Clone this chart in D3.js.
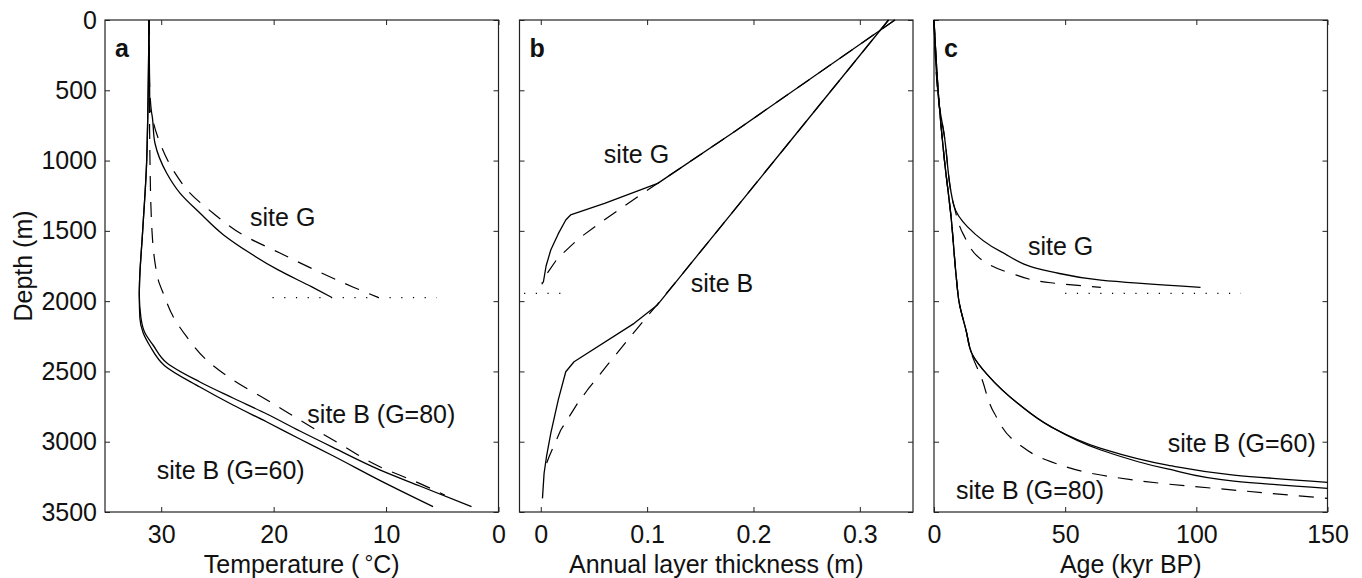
<!DOCTYPE html>
<html>
<head>
<meta charset="utf-8">
<script src="https://cdn.jsdelivr.net/npm/d3@7"></script>
<style>
  body { margin: 0; background: #fff; }
  text { font-family: "Liberation Sans", Arial, sans-serif; fill: #111; }
</style>
</head>
<body>
<div id="chart"></div>
<script>
// ---- data: [value, depth (m)] ----
// panel a : temperature (degrees, axis reversed)
var tempGSolid = [[31.09,0],[31.04,427],[31.0,640],[30.85,662],[30.56,875],[29.52,1088],[28.33,1231],[26.56,1373],[24.45,1529],[22.11,1658],[19.6,1778],[16.6,1899],[14.85,1973]];
var tempGDash = [[31.09,0],[31.04,427],[30.85,662],[30.11,875],[28.78,1088],[27.44,1231],[25.4,1373],[22.73,1529],[19.44,1658],[16.33,1778],[12.96,1899],[10.71,1973]];
var tempB80Solid = [[31.09,0],[31.29,996],[31.65,1501],[31.93,1871],[31.95,1956],[31.8,2120],[31.44,2227],[30.73,2312],[29.49,2440],[26.56,2575],[23.62,2689],[20.6,2803],[17.67,2924],[14.73,3040],[10.56,3200],[7.0,3315],[2.4,3462]];
var tempB60Solid = [[31.09,0],[31.29,996],[31.65,1501],[31.93,1871],[31.95,1956],[31.9,2120],[31.6,2227],[31.0,2319],[29.67,2461],[26.56,2611],[23.62,2739],[20.6,2860],[17.67,2981],[14.73,3100],[10.56,3275],[5.82,3462]];
var tempBDash = [[31.09,0],[31.0,996],[30.82,1501],[30.56,1722],[30.26,1850],[29.82,1944],[28.93,2111],[27.74,2253],[25.96,2419],[23.6,2561],[20.6,2703],[17.67,2846],[14.11,3016],[10.56,3178],[7.36,3285],[4.78,3379]];
var tempDotted = [[20.1,1975],[5.5,1975]];

// panel b : annual layer thickness (m)
var thickGSolid = [[0.333,0],[0.182,795],[0.11,1162],[0.06,1304],[0.028,1387],[0.0235,1423],[0.0165,1520],[0.0094,1636],[0.005,1750],[0.0025,1862],[0.001,1880]];
var thickGDash = [[0.333,0],[0.182,795],[0.11,1162],[0.0957,1233],[0.0596,1423],[0.036,1553],[0.0157,1696],[0.0038,1826],[0.001,1870]];
var thickBSolid = [[0.327,0],[0.1285,1850],[0.1097,2027],[0.0878,2158],[0.0313,2431],[0.0235,2502],[0.0165,2700],[0.0094,2941],[0.0055,3100],[0.0031,3226],[0.0016,3403]];
var thickBDash = [[0.327,0],[0.1285,1850],[0.11,2020],[0.0894,2206],[0.0627,2454],[0.0439,2632],[0.0346,2727],[0.0188,2917],[0.0078,3107],[0.0031,3201]];
var thickDotted = [[-0.0157,1945],[0.019,1945]];

// panel c : age (kyr BP)
var ageGSolid = [[0,0],[2.0,605],[3.8,806],[7.7,1328],[12.7,1470],[25.5,1648],[44.5,1790],[63.6,1850],[101.6,1902]];
var ageGDash = [[0,0],[2.0,605],[3.8,806],[7.7,1328],[11,1518],[19.2,1719],[29.4,1802],[44.5,1869],[63.6,1902]];
var ageB60Solid = [[0,0],[2.0,605],[4.0,1000],[6.5,1400],[8.6,1850],[9.5,2000],[12.2,2206],[14.7,2383],[20.4,2525],[31.9,2727],[44.5,2893],[63.6,3047],[89,3166],[114.3,3237],[150,3289]];
var ageB80Solid = [[0,0],[2.0,605],[4.0,1000],[6.5,1400],[8.6,1850],[9.5,2000],[12.2,2206],[14.7,2383],[20.4,2525],[31.9,2727],[44.5,2893],[63.6,3059],[89,3194],[114.3,3280],[150,3332]];
var ageBDash = [[0,0],[2.0,605],[4.0,1000],[6.5,1400],[8.6,1850],[9.5,2000],[12.2,2206],[14.7,2395],[17.9,2537],[23,2798],[31.9,3012],[44.5,3142],[63.6,3237],[89,3301],[114.3,3344],[150,3403]];
var ageDotted = [[50,1945],[117,1945]];

var depthTicks = [0,500,1000,1500,2000,2500,3000,3500];
var tempTicks = [30,20,10,0];
var thickTicks = [0,0.1,0.2,0.3];
var ageTicks = [0,50,100,150];

var panels = [
  {letter:"a", domain:[35,0], ticks:tempTicks, title:"Temperature", smooth:true,
   curves:[[tempGSolid,"s"],[tempGDash,"d"],[tempB80Solid,"s"],[tempB60Solid,"s"],[tempBDash,"d"],[tempDotted,"o"]],
   labels:[["site G",22.1,1465],["site B (G=80)",17.0,2865],["site B (G=60)",30.4,3265]]},
  {letter:"b", domain:[-0.02,0.35], ticks:thickTicks, title:"Annual layer thickness (m)", smooth:false,
   curves:[[thickGSolid,"s"],[thickGDash,"d"],[thickBSolid,"s"],[thickBDash,"d"],[thickDotted,"o"]],
   labels:[["site G",0.0593,1017],["site B",0.141,1935]]},
  {letter:"c", domain:[0,150], ticks:ageTicks, title:"Age (kyr BP)", smooth:true,
   curves:[[ageGSolid,"s"],[ageGDash,"d"],[ageB60Solid,"s"],[ageB80Solid,"s"],[ageBDash,"d"],[ageDotted,"o"]],
   labels:[["site G",35.8,1672],["site B (G=60)",89.1,3071],["site B (G=80)",8.4,3408]]}
];

var W = 1362, H = 578;
var plotTop = 20, plotBottom = 512, left0 = 105, pw = 393.5, gap = 21;

var svg = d3.select("#chart").append("svg")
    .attr("width", W).attr("height", H);

var y = d3.scaleLinear().domain([0,3500]).range([plotTop,plotBottom]);

panels.forEach(function(p, i) {
  var x0 = left0 + i*(pw+gap);
  var x = d3.scaleLinear().domain(p.domain).range([x0, x0+pw]);
  var g = svg.append("g");

  // ticks, pointing inward, on all four sides
  g.append("g").attr("transform","translate(0,"+plotBottom+")")
    .call(d3.axisBottom(x).tickValues(p.ticks).tickFormat(function(d){return d;}).tickSize(-5).tickPadding(13));
  g.append("g").attr("transform","translate(0,"+plotTop+")")
    .call(d3.axisTop(x).tickValues(p.ticks).tickFormat("").tickSize(-5));
  g.append("g").attr("transform","translate("+x0+",0)")
    .call(d3.axisLeft(y).tickValues(depthTicks).tickFormat(i==0 ? d3.format("d") : "").tickSize(-5).tickPadding(8));
  g.append("g").attr("transform","translate("+(x0+pw)+",0)")
    .call(d3.axisRight(y).tickValues(depthTicks).tickFormat("").tickSize(-5));
  g.selectAll(".domain").remove();
  g.selectAll(".tick line").attr("stroke","#222").attr("stroke-width",1);
  g.selectAll(".tick text").style("font-size","25px").style("font-family","Liberation Sans, Arial, sans-serif").attr("fill","#111");

  g.append("rect").attr("x",x0).attr("y",plotTop).attr("width",pw).attr("height",plotBottom-plotTop)
    .attr("fill","none").attr("stroke","#222").attr("stroke-width",1.2);

  var straight = d3.line().x(function(d){return x(d[0]);}).y(function(d){return y(d[1]);});
  var line = d3.line().x(function(d){return x(d[0]);}).y(function(d){return y(d[1]);})
    .curve(p.smooth ? d3.curveMonotoneY : d3.curveLinear);

  p.curves.forEach(function(c) {
    var path = g.append("path").datum(c[0])
      .attr("d", c[1]=="o" ? straight : line)
      .attr("fill","none").attr("stroke","#000")
      .attr("stroke-linejoin","round");
    if (c[1]=="s") path.attr("stroke-width",1.3);
    if (c[1]=="d") path.attr("stroke-width",1.2).attr("stroke-dasharray","15,11");
    if (c[1]=="o") path.attr("stroke-width",1.4).attr("stroke-dasharray","1.2,10.5");
  });

  p.labels.forEach(function(l) {
    g.append("text").attr("x",x(l[1])).attr("y",y(l[2]))
      .style("font-size","25px").text(l[0]);
  });

  g.append("text").attr("x",x0+10).attr("y",57)
    .style("font-size","25px").style("font-weight","bold").text(p.letter);

  var t = g.append("text").attr("x",x0+pw/2).attr("y",573)
    .attr("text-anchor","middle").style("font-size","25px");
  if (i==0) {
    t.text("Temperature (");
    t.append("tspan").attr("dx",5).attr("dy",-2).style("font-size","22px").text("°");
    t.append("tspan").attr("dy",2).text("C)");
  } else {
    t.text(p.title);
  }
});

svg.append("text")
  .attr("transform","translate(32,266) rotate(-90)")
  .attr("text-anchor","middle")
  .style("font-size","25px")
  .text("Depth (m)");
</script>
</body>
</html>
